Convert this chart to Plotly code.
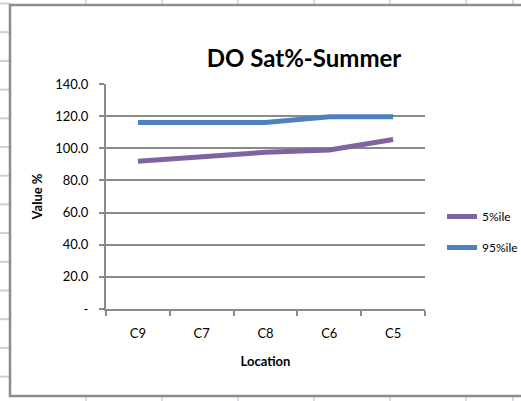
import plotly.graph_objects as go

locations = ["C9", "C7", "C8", "C6", "C5"]
p5 = [92.0, 94.8, 97.5, 99.0, 105.5]
p95 = [116.0, 116.0, 116.0, 119.6, 119.6]
ytick_vals = [0, 20, 40, 60, 80, 100, 120, 140]
ytick_text = ["-", "20.0", "40.0", "60.0", "80.0", "100.0", "120.0", "140.0"]

# page is 521x401; figure made a little wider so the legend is not squeezed,
# the extra width falls outside the window (as in the original screenshot)
W, H = 580, 401
L, R, T, B = 106, 155, 84, 92
PW, PH = W - L - R, H - T - B

def px(x):
    return (x - L) / PW

def py(y):
    return (H - B - y) / PH

FONT = "Lato, Calibri, Carlito, Arial, sans-serif"
GRID = "#8a8a8a"
SHEET = "#c9d2e3"

fig = go.Figure()
fig.add_trace(go.Scatter(x=locations, y=p5, mode="lines", name="5%ile", legendgroup="a",
                         line=dict(color="#8064A2", width=5)))
fig.add_trace(go.Scatter(x=locations, y=p95, mode="lines", name="95%ile", legendgroup="b",
                         line=dict(color="#4F81BD", width=5)))

shapes = []
# spreadsheet background grid
for gx in [86, 162, 238, 314, 390, 466, 513]:
    shapes.append(dict(type="line", xref="paper", yref="paper", x0=px(gx), x1=px(gx),
                       y0=py(0), y1=py(H), line=dict(color=SHEET, width=1.5), layer="below"))
gy = 3.5
while gy < H:
    shapes.append(dict(type="line", xref="paper", yref="paper", x0=px(0), x1=px(10),
                       y0=py(gy), y1=py(gy), line=dict(color=SHEET, width=2), layer="below"))
    gy += 28.7
# chart area
shapes.append(dict(type="rect", xref="paper", yref="paper", x0=px(10), x1=px(570),
                   y0=py(396), y1=py(5), fillcolor="white",
                   line=dict(color="#8c8c8c", width=2.5), layer="below"))
fig.update_layout(shapes=shapes)

fig.update_layout(
    width=W, height=H,
    margin=dict(l=L, r=R, t=T, b=B),
    paper_bgcolor="white", plot_bgcolor="rgba(0,0,0,0)",
    font=dict(family=FONT, size=13, color="#000000"),
    title=dict(text="<b>DO Sat%-Summer</b>", xref="container", x=304 / W, xanchor="center",
               y=1 - 59 / H, yanchor="middle", font=dict(size=24, family=FONT)),
    legend=dict(x=px(442), y=py(202), xanchor="left", yanchor="top",
                bgcolor="rgba(0,0,0,0)", font=dict(size=12, family=FONT),
                tracegroupgap=12, itemwidth=30),
    showlegend=True,
)
fig.update_xaxes(
    type="category", range=[-0.5, 4.5],
    showline=True, linecolor=GRID, linewidth=2,
    ticks="outside", tickson="boundaries", ticklen=5, tickcolor=GRID, tickwidth=2,
    showgrid=False, tickfont=dict(size=13), ticklabelstandoff=11,
    title=dict(text="<b>Location</b>", font=dict(size=13), standoff=17),
)
fig.update_yaxes(
    range=[0, 140], tickvals=ytick_vals, ticktext=ytick_text,
    showline=True, linecolor=GRID, linewidth=2,
    ticks="outside", ticklen=5, tickcolor=GRID, tickwidth=2,
    showgrid=True, gridcolor=GRID, gridwidth=2, zeroline=False,
    tickfont=dict(size=13), ticklabelstandoff=8,
    title=dict(text="<b>Value %</b>", font=dict(size=13), standoff=10),
)

fig.write_html("out.html", config={"displayModeBar": False},
               post_script="document.body.style.margin='0';document.body.style.overflow='hidden';")
